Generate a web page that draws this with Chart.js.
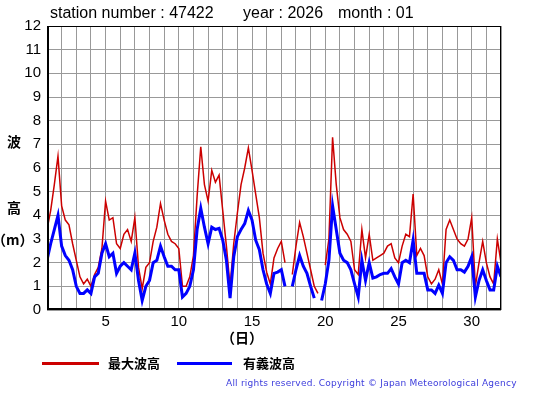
<!DOCTYPE html>
<html>
<head>
<meta charset="utf-8">
<script src="https://cdn.jsdelivr.net/npm/chart.js@4"></script>
<style>
  html, body { margin: 0; padding: 0; background: #fff; }
  #wrap { position: relative; width: 555px; height: 395px; overflow: hidden; }
  #wrap canvas { position: absolute; left: 0; top: 0; }
  .t { position: absolute; white-space: nowrap; color: #000; }
  .head { font-family: "Liberation Sans", Arial, sans-serif; font-size: 16px; top: 4px; }
  .jp { font-family: "Noto Sans CJK JP", sans-serif; font-weight: bold; font-size: 14px; }
  .leg { position: absolute; height: 3px; }
  #copy { font-family: "DejaVu Sans", sans-serif; font-size: 9px; letter-spacing: 0.23px; color: #3c3cdc; left: 226px; top: 378px; }
</style>
</head>
<body>
<div id="wrap">
  <canvas id="grafico" width="555" height="395"></canvas>
  <div class="t head" style="left:50px">station number : 47422</div>
  <div class="t head" style="left:243px">year : 2026</div>
  <div class="t head" style="left:338px">month : 01</div>
  <div class="t jp" style="left:7px; top:131px">波</div>
  <div class="t jp" style="left:7px; top:197px">高</div>
  <div class="t jp" style="left:-8px; top:229px">（m）</div>
  <div class="t jp" style="left:221px; top:327px">（日）</div>
  <div class="leg" style="left:42px; top:362px; width:57px; background:#cc0000"></div>
  <div class="t jp" style="left:108px; top:353px; font-size:13px">最大波高</div>
  <div class="leg" style="left:177px; top:362px; width:55px; background:#0000ff"></div>
  <div class="t jp" style="left:243px; top:353px; font-size:13px">有義波高</div>
  <div class="t" id="copy">All rights reserved. Copyright © Japan Meteorological Agency</div>
</div>
<script>
// eixo x: dias do mes (passo de 6 horas)
const dias = [];
for (let d = 1; d <= 32; d += 0.25) dias.push(d);

// 最大波高 (m)
const ondaMaxima = [
  3.4, 4.2, 5.3, 6.5,   4.4, 3.8, 3.6, 2.8,   2.1, 1.4, 1.1, 1.3,   1.0, 1.5, 1.8, 2.6,
  4.6, 3.8, 3.9, 2.8,   2.6, 3.2, 3.4, 2.9,   3.9, 1.8, 0.9, 1.8,   2.0, 2.9, 3.5, 4.5,
  3.8, 3.2, 2.9, 2.8,   2.6, 1.0, 1.0, 1.4,   2.3, 4.8, 6.9, 5.3,   4.6, 5.9, 5.4, 5.7,
  4.2, 2.7, 1.0, 2.8,   4.1, 5.3, 6.0, 6.85,  5.9, 4.9, 3.9, 2.4,   1.6, 1.1, 2.2, 2.6,
  2.9, 2.0, null, 1.5,  2.7, 3.7, 3.1, 2.4,   1.7, 1.0, 0.7, null,  1.9, 3.0, 7.3, 5.3,
  3.9, 3.4, 3.2, 2.9,   1.7, 1.5, 3.4, 2.2,   3.2, 2.1, 2.2, 2.3,   2.4, 2.7, 2.8, 2.2,
  2.0, 2.7, 3.2, 3.1,   4.9, 2.3, 2.6, 2.3,   1.4, 1.1, 1.3, 1.7,   1.1, 3.4, 3.8, 3.4,
  3.0, 2.8, 2.7, 3.0,   3.9, 1.0, 2.0, 2.9,   2.0, 1.4, 1.1, 3.0,   2.0
];

// 有義波高 (m)
const ondaSignificativa = [
  2.1, 2.8, 3.4, 4.0,   2.7, 2.3, 2.1, 1.7,   1.0, 0.7, 0.7, 0.85,  0.7, 1.4, 1.55, 2.4,
  2.8, 2.25, 2.4, 1.55, 1.85, 2.0, 1.85, 1.7, 2.4, 1.25, 0.4, 1.0,  1.25, 2.0, 2.1, 2.7,
  2.25, 1.85, 1.85, 1.7, 1.7, 0.55, 0.7, 1.0, 1.7, 3.4, 4.3, 3.5,   2.8, 3.5, 3.4, 3.45,
  2.95, 2.1, 0.5, 2.25, 3.1, 3.4, 3.65, 4.2,  3.8, 2.95, 2.55, 1.7, 1.1, 0.7, 1.55, 1.6,
  1.7, 1.0, null, 1.0,  1.7, 2.3, 1.85, 1.55, 1.0, 0.5, null, 0.4,  1.1, 2.1, 4.4, 3.4,
  2.4, 2.1, 2.0, 1.7,   1.1, 0.55, 2.1, 1.25, 2.0, 1.35, 1.4, 1.5,  1.55, 1.55, 1.75, 1.4,
  1.1, 2.0, 2.1, 2.0,   2.95, 1.55, 1.55, 1.55, 0.85, 0.85, 0.7, 1.05, 0.7, 2.0, 2.25, 2.1,
  1.7, 1.7, 1.6, 1.85,  2.25, 0.55, 1.25, 1.7, 1.25, 0.85, 0.85, 1.85, 1.4
];

const diasRotulados = [5, 10, 15, 20, 25, 30];

function pontos(valores) {
  return dias.map((d, i) => ({ x: d, y: valores[i] }));
}

// moldura preta do grafico
const moldura = {
  id: 'moldura',
  afterDraw(chart) {
    const { ctx, chartArea: a } = chart;
    ctx.save();
    ctx.strokeStyle = '#000';
    ctx.lineWidth = 1;
    ctx.strokeRect(a.left + 0.5, a.top + 0.5, a.right - a.left - 1, a.bottom - a.top - 1);
    ctx.lineWidth = 2;
    ctx.beginPath();
    ctx.moveTo(a.left + 1, a.top);
    ctx.lineTo(a.left + 1, a.bottom - 1);
    ctx.lineTo(a.right, a.bottom - 1);
    ctx.stroke();
    ctx.restore();
  }
};

const fonteEixo = { family: '"Liberation Sans", Arial, sans-serif', size: 15 };

new Chart(document.getElementById('grafico'), {
  type: 'line',
  data: {
    datasets: [
      {
        label: '最大波高',
        data: pontos(ondaMaxima),
        borderColor: '#cc0000',
        borderWidth: 1.5,
        pointRadius: 0,
        tension: 0,
        spanGaps: false,
        order: 1
      },
      {
        label: '有義波高',
        data: pontos(ondaSignificativa),
        borderColor: '#0000ff',
        borderWidth: 3,
        pointRadius: 0,
        tension: 0,
        spanGaps: false,
        order: 0
      }
    ]
  },
  options: {
    responsive: false,
    animation: false,
    events: [],
    layout: { padding: { left: 0, top: 26, right: 54, bottom: 65 } },
    plugins: { legend: { display: false }, tooltip: { enabled: false } },
    scales: {
      x: {
        type: 'linear',
        min: 1,
        max: 32,
        afterFit: s => { s.height = 20; },
        afterBuildTicks: s => {
          s.ticks = [];
          for (let d = 1; d <= 32; d++) s.ticks.push({ value: d });
        },
        grid: { color: '#999999', lineWidth: 1, drawTicks: false },
        border: { display: false },
        ticks: {
          autoSkip: false,
          maxRotation: 0,
          padding: 3,
          color: '#000',
          font: fonteEixo,
          callback: v => diasRotulados.includes(v) ? String(v) : ''
        }
      },
      y: {
        min: 0,
        max: 12,
        afterFit: s => { s.width = 47; },
        grid: { color: '#999999', lineWidth: 1, drawTicks: false },
        border: { display: false },
        ticks: { stepSize: 1, padding: 6, color: '#000', font: fonteEixo }
      }
    }
  },
  plugins: [moldura]
});
</script>
</body>
</html>
